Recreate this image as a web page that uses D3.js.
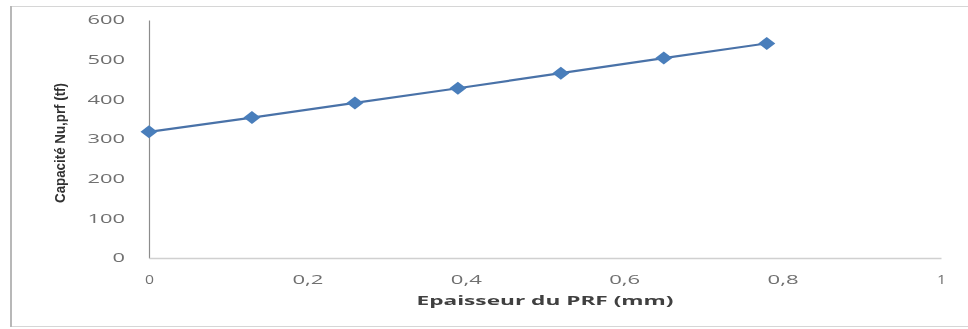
<!DOCTYPE html>
<html>
<head>
<meta charset="utf-8">
<script src="https://cdn.jsdelivr.net/npm/d3@7"></script>
<style>
  html, body { margin: 0; padding: 0; background: #fff; }
  svg { display: block; }
</style>
</head>
<body>
<svg id="chart" width="968" height="329"></svg>
<script>
// Thickness of the FRP layer (mm) and the resulting capacity Nu,prf (tf)
const thickness = [0, 0.13, 0.26, 0.39, 0.52, 0.65, 0.78];
const capacity  = [318, 354, 391, 428, 466, 504, 541];
const xTicks = [0, 0.2, 0.4, 0.6, 0.8, 1];
const yTicks = [0, 100, 200, 300, 400, 500, 600];
const xTitle = "Epaisseur du PRF (mm)";
const yTitle = "Capacité Nu,prf (tf)";

const svg = d3.select("#chart");
const plot = { left: 149, right: 941, top: 20, bottom: 258 };

const x = d3.scaleLinear().domain([0, 1]).range([plot.left, plot.right]);
const y = d3.scaleLinear().domain([0, 600]).range([plot.bottom, plot.top]);

// Slight softening of the whole drawing
svg.append("defs").append("filter").attr("id", "soft")
  .append("feGaussianBlur").attr("stdDeviation", 0.45);

const root = svg.append("g").attr("filter", "url(#soft)");

// Outer chart frame
root.append("rect")
  .attr("x", 10.5).attr("y", 6.5).attr("width", 970).attr("height", 320)
  .attr("fill", "#fff").attr("stroke", "#d6d6d6").attr("stroke-width", 1);
root.append("line")
  .attr("x1", 11).attr("x2", 11).attr("y1", 6).attr("y2", 327)
  .attr("stroke", "#b8b8b8").attr("stroke-width", 2);

const g = root.append("g");

// Axes: tick labels only, stretched horizontally like the original layout
const fmt = d => d3.format("~g")(d).replace(".", ",");
const yAxis = d3.axisLeft(y).tickValues(yTicks).tickSize(0).tickPadding(24).tickFormat(d => d);
const xAxis = d3.axisBottom(x).tickValues(xTicks).tickSize(0).tickPadding(17).tickFormat(fmt);

const ya = g.append("g").attr("transform", `translate(${plot.left},0)`).call(yAxis);
ya.select(".domain").attr("stroke", "#8c8c8c").attr("stroke-width", 1.2);
ya.selectAll("text")
  .attr("fill", "#707070").attr("font-family", "Open Sans, sans-serif").attr("font-size", 12)
  .attr("textLength", d => String(d).length * 12.5).attr("lengthAdjust", "spacingAndGlyphs");

const xa = g.append("g").attr("transform", `translate(0,${plot.bottom})`).call(xAxis);
xa.select(".domain").attr("stroke", "#d0d0d0").attr("stroke-width", 1.5);
xa.selectAll("text")
  .attr("fill", "#707070").attr("font-family", "Open Sans, sans-serif").attr("font-size", 12)
  .attr("textLength", d => fmt(d).length === 1 ? 9 : 31).attr("lengthAdjust", "spacingAndGlyphs");

// Axis titles
g.append("text")
  .attr("x", (plot.left + plot.right) / 2).attr("y", 305)
  .attr("text-anchor", "middle")
  .attr("font-family", "Open Sans, sans-serif").attr("font-weight", "bold").attr("font-size", 12.5)
  .attr("fill", "#404040")
  .attr("textLength", 257).attr("lengthAdjust", "spacingAndGlyphs")
  .text(xTitle);

g.append("text")
  .attr("transform", `translate(65,${(plot.top + plot.bottom) / 2 + 4}) rotate(-90)`)
  .attr("text-anchor", "middle")
  .attr("font-family", "Liberation Sans Narrow, Liberation Sans, sans-serif").attr("font-weight", "bold").attr("font-size", 15.5)
  .attr("fill", "#303030")
  .attr("textLength", 120).attr("lengthAdjust", "spacingAndGlyphs")
  .text(yTitle);

// Series line and diamond markers
const pts = thickness.map((t, i) => [t, capacity[i]]);
g.append("path")
  .datum(pts)
  .attr("fill", "none").attr("stroke", "#4a72a8").attr("stroke-width", 2.2)
  .attr("d", d3.line().x(d => x(d[0])).y(d => y(d[1])));

const diamond = "M0,-6.5L8.5,0L0,6.5L-8.5,0Z";
g.selectAll(".mk").data(pts).join("path")
  .attr("class", "mk")
  .attr("transform", d => `translate(${x(d[0])},${y(d[1])})`)
  .attr("d", diamond)
  .attr("fill", "#4a7ebb");
</script>
</body>
</html>
